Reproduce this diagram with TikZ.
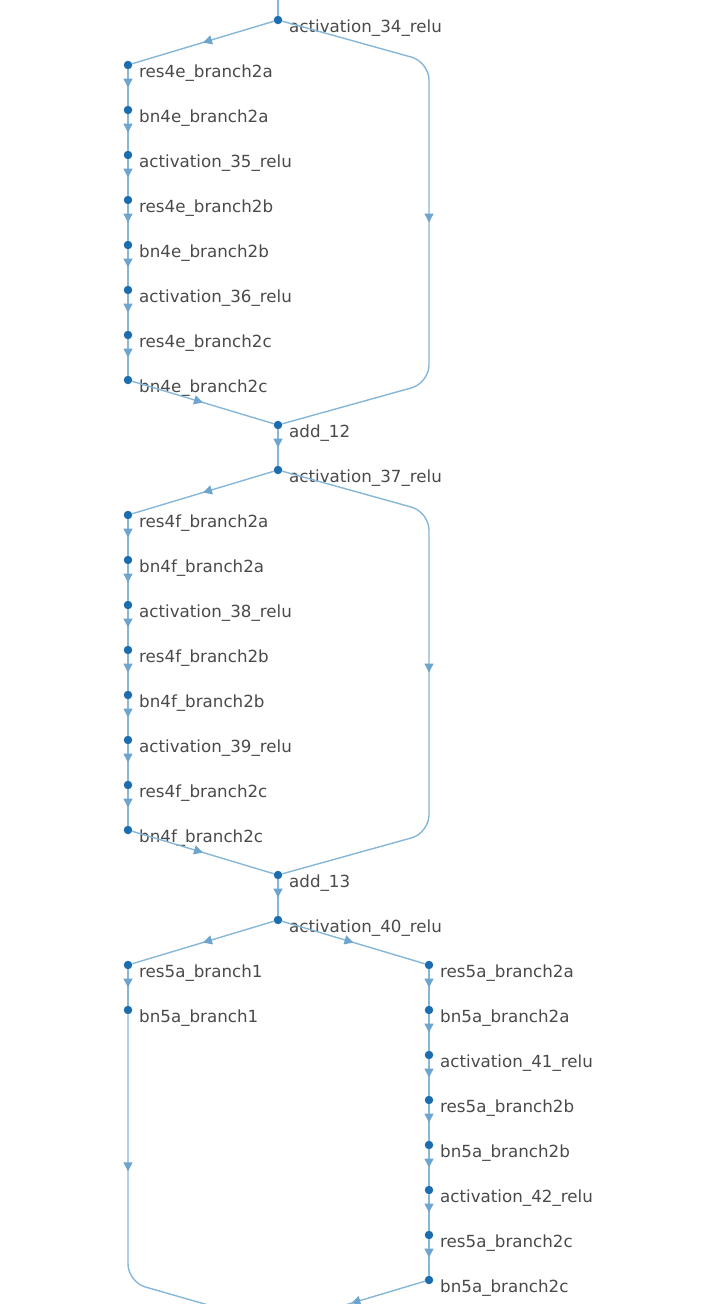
\documentclass[tikz,border=0pt]{standalone}
\usepackage{fontspec}
\setmainfont{DejaVu Sans}
\usetikzlibrary{arrows.meta,decorations.markings}
\definecolor{edgec}{HTML}{86B6D8}
\definecolor{tipc}{HTML}{6EA5CE}
\definecolor{dotc}{HTML}{1C6DAE}
\definecolor{txtc}{HTML}{4A4A4A}
\tikzset{
  dot/.style={circle,fill=dotc,inner sep=0pt,minimum size=8.5pt},
  lbl/.style={anchor=base west,inner sep=0pt,text=txtc,font=\fontsize{16.7}{18}\selectfont},
  edge/.style={draw=edgec,line width=1.4pt,postaction={decorate},
    decoration={markings,mark=at position #1 with {\arrow{Triangle[width=9pt,length=9pt,fill=tipc,color=tipc]}}}},
  edge/.default=0.5,
  plain/.style={draw=edgec,line width=1.4pt}
}
\newcommand{\gnode}[4]{\node[dot] (#1) at (#2,#3) {}; \node[lbl] (#1-t) at (#2+11,#3+12) {#4};}
\begin{document}
\begin{tikzpicture}[x=1pt,y=-1pt]
\useasboundingbox (0,0) rectangle (721,1304);
\clip (0,0) rectangle (721,1304);
% block 1
\coordinate (top) at (278,-10);
\gnode{a34}{278}{20}{activation\_34\_relu}
\gnode{r4e2a}{128}{65}{res4e\_branch2a}
\gnode{b4e2a}{128}{110}{bn4e\_branch2a}
\gnode{a35}{128}{155}{activation\_35\_relu}
\gnode{r4e2b}{128}{200}{res4e\_branch2b}
\gnode{b4e2b}{128}{245}{bn4e\_branch2b}
\gnode{a36}{128}{290}{activation\_36\_relu}
\gnode{r4e2c}{128}{335}{res4e\_branch2c}
\gnode{b4e2c}{128}{380}{bn4e\_branch2c}
\gnode{add12}{278}{425}{add\_12}
\gnode{a37}{278}{470}{activation\_37\_relu}
% block 2
\gnode{r4f2a}{128}{515}{res4f\_branch2a}
\gnode{b4f2a}{128}{560}{bn4f\_branch2a}
\gnode{a38}{128}{605}{activation\_38\_relu}
\gnode{r4f2b}{128}{650}{res4f\_branch2b}
\gnode{b4f2b}{128}{695}{bn4f\_branch2b}
\gnode{a39}{128}{740}{activation\_39\_relu}
\gnode{r4f2c}{128}{785}{res4f\_branch2c}
\gnode{b4f2c}{128}{830}{bn4f\_branch2c}
\gnode{add13}{278}{875}{add\_13}
\gnode{a40}{278}{920}{activation\_40\_relu}
% block 3
\gnode{r5a1}{128}{965}{res5a\_branch1}
\gnode{b5a1}{128}{1010}{bn5a\_branch1}
\gnode{r5a2a}{429}{965}{res5a\_branch2a}
\gnode{b5a2a}{429}{1010}{bn5a\_branch2a}
\gnode{a41}{429}{1055}{activation\_41\_relu}
\gnode{r5a2b}{429}{1100}{res5a\_branch2b}
\gnode{b5a2b}{429}{1145}{bn5a\_branch2b}
\gnode{a42}{429}{1190}{activation\_42\_relu}
\gnode{r5a2c}{429}{1235}{res5a\_branch2c}
\gnode{b5a2c}{429}{1280}{bn5a\_branch2c}
\coordinate (add14) at (278,1325);
% edges block 1
\draw[plain] (top) -- (a34);
\draw[edge] (a34) -- (r4e2a);
\foreach \u/\v in {r4e2a/b4e2a,b4e2a/a35,a35/r4e2b,r4e2b/b4e2b,b4e2b/a36,a36/r4e2c,r4e2c/b4e2c}
  \draw[edge] (\u) -- (\v);
\draw[edge] (b4e2c) -- (add12);
\draw[edge,rounded corners=18pt] (a34) -- (429,62) -- (429,383) -- (add12);
\draw[edge] (add12) -- (a37);
% edges block 2
\draw[edge] (a37) -- (r4f2a);
\foreach \u/\v in {r4f2a/b4f2a,b4f2a/a38,a38/r4f2b,r4f2b/b4f2b,b4f2b/a39,a39/r4f2c,r4f2c/b4f2c}
  \draw[edge] (\u) -- (\v);
\draw[edge] (b4f2c) -- (add13);
\draw[edge,rounded corners=18pt] (a37) -- (429,512) -- (429,833) -- (add13);
\draw[edge] (add13) -- (a40);
% edges block 3
\draw[edge] (a40) -- (r5a1);
\draw[edge] (r5a1) -- (b5a1);
\draw[edge=0.375,rounded corners=18pt] (b5a1) -- (128,1282) -- (add14);
\draw[edge] (a40) -- (r5a2a);
\foreach \u/\v in {r5a2a/b5a2a,b5a2a/a41,a41/r5a2b,r5a2b/b5a2b,b5a2b/a42,a42/r5a2c,r5a2c/b5a2c}
  \draw[edge] (\u) -- (\v);
\draw[edge] (b5a2c) -- (add14);
\end{tikzpicture}
\end{document}
